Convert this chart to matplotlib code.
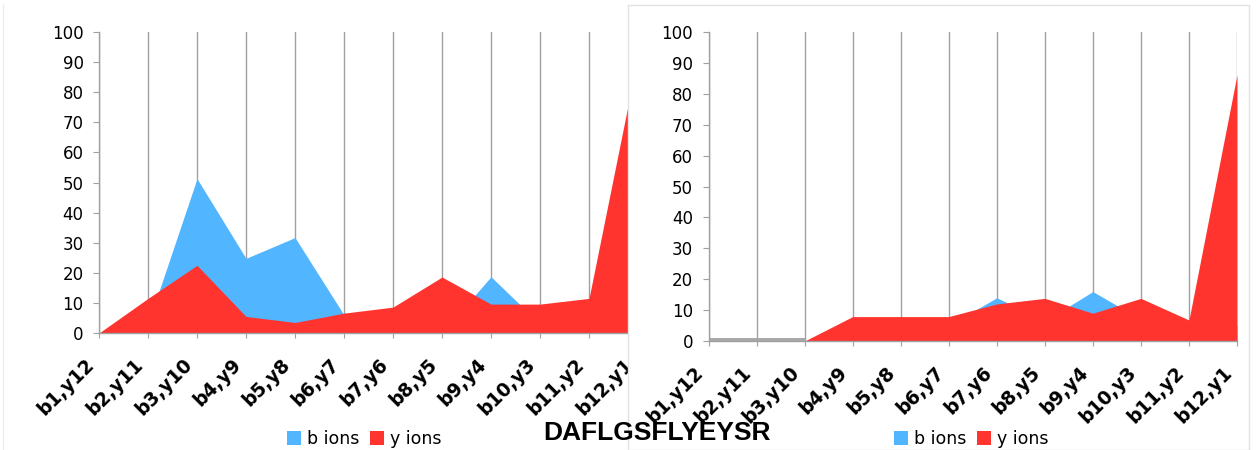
import matplotlib
matplotlib.use("Agg")
import matplotlib.pyplot as plt
from matplotlib.patches import Patch, Rectangle
from matplotlib.lines import Line2D
from matplotlib.transforms import ScaledTranslation

# Fragment labels (b / y ion pairs)
fragments = ["b1,y12", "b2,y11", "b3,y10", "b4,y9", "b5,y8", "b6,y7",
             "b7,y6", "b8,y5", "b9,y4", "b10,y3", "b11,y2", "b12,y1"]

# Left spectrum: relative intensities
b_left = [0, 3, 51.3, 24.8, 31.7, 6, 0, 0, 18.7, 3, 2, 5]
y_left = [0, 11.5, 22.5, 5.5, 3.5, 6.6, 8.6, 18.6, 9.6, 9.6, 11.5, 92]

# Right spectrum: relative intensities
b_right = [0, 0, 0, 3, 3, 5, 14, 6.5, 16, 7, 3, 5]
y_right = [0, 0, 0, 7.9, 7.9, 7.9, 12, 13.8, 9, 13.8, 6.8, 86.2]
no_coverage = [1.0, 1.0, 1.0]  # baseline band for b1..b3 on the right

peptide = "DAFLGSFLYEYSR"
y_ticks = [0, 10, 20, 30, 40, 50, 60, 70, 80, 90, 100]

BLUE = "#52B5FF"
RED = "#FF342F"
GRID = "#A0A0A0"

W, H = 1257, 450
fig = plt.figure(figsize=(W / 100, H / 100), dpi=100)
fig.patch.set_facecolor("white")


def px_axes(x0, x1, ytop, ybot):
    return fig.add_axes([x0 / W, (H - ybot) / H, (x1 - x0) / W, (ybot - ytop) / H])


def draw_panel(ax, b_vals, y_vals, ypad_px):
    x = list(range(len(fragments)))
    ax.fill_between(x, 0, b_vals, color=BLUE, lw=0, zorder=2)
    ax.fill_between(x, 0, y_vals, color=RED, lw=0, zorder=3)
    ax.set_xlim(0, len(fragments) - 1)
    ax.set_ylim(0, 100)
    for xi in x:
        ax.axvline(xi, color=GRID, lw=1, zorder=1)
    for side in ("top", "right"):
        ax.spines[side].set_visible(False)
    for side in ("left", "bottom"):
        ax.spines[side].set_color(GRID)
        ax.spines[side].set_linewidth(1)
        ax.spines[side].set_zorder(4)
    ax.set_yticks(y_ticks)
    ax.set_yticklabels([str(v) for v in y_ticks], fontsize=12, family="DejaVu Sans")
    ax.tick_params(axis="y", length=4.3, color=GRID, pad=ypad_px * 0.72)
    ax.set_xticks(x)
    ax.set_xticklabels(fragments, rotation=45, ha="right", va="center",
                       rotation_mode="anchor", fontsize=13.5, fontweight="bold",
                       family="DejaVu Sans")
    ax.tick_params(axis="x", length=3.5, color=GRID, pad=17)
    off = ScaledTranslation(-8 / 100, 0, fig.dpi_scale_trans)
    for lab in ax.get_xticklabels():
        lab.set_transform(lab.get_transform() + off)
    ax.set_facecolor("none")


# Left panel (its last column runs past the panel edge)
axL = px_axes(99, 638, 32, 333)
draw_panel(axL, b_left, y_left, 9.5)

# Right panel
axR = px_axes(708.5, 1237, 32, 341)
axR.fill_between(range(len(no_coverage)), 0, no_coverage, color="#A8A8A8",
                 lw=0, zorder=3)
draw_panel(axR, b_right, y_right, 9.5)

# Cover the overflow of the left panel and frame the right panel
fig.patches.append(Rectangle((628.5 / W, (H - 415) / H), 16 / W, 415 / H,
                             transform=fig.transFigure, facecolor="white",
                             edgecolor="none", zorder=5))
fig.patches.append(Rectangle((628 / W, 0), (1249 - 628) / W, (H - 5) / H,
                             transform=fig.transFigure, facecolor="none",
                             edgecolor="#E2E2E2", lw=1, zorder=6))
fig.lines.append(Line2D([3 / W, 3 / W], [0, (H - 5) / H], transform=fig.transFigure,
                        color="#EDEDED", lw=1, zorder=6))

handles = [Patch(facecolor=BLUE, edgecolor="none", label="b ions"),
           Patch(facecolor=RED, edgecolor="none", label="y ions")]
for cx in (364, 971):
    fig.legend(handles=handles, loc="center", ncol=2,
               bbox_to_anchor=(cx / W, (H - 439) / H), frameon=False,
               fontsize=12.5, handlelength=0.8, handleheight=0.8,
               handletextpad=0.35, columnspacing=0.6, borderpad=0)

fig.text(657 / W, (H - 433) / H, peptide, ha="center", va="center",
         fontsize=19, fontweight="bold", family="Liberation Sans", zorder=7)

fig.savefig("out.png", dpi=100, facecolor="white")
